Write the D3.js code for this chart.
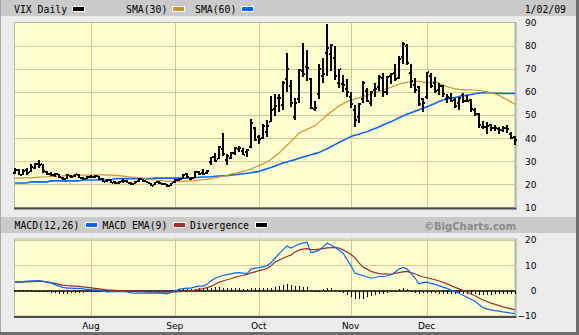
<!DOCTYPE html>
<html>
<head>
<meta charset="utf-8">
<script src="https://cdn.jsdelivr.net/npm/d3@7"></script>
<style>
  html, body { margin: 0; padding: 0; background: #ececec; }
  svg { display: block; }
</style>
</head>
<body>
<svg id="chart" width="579" height="335"></svg>
<script>
// ---- Trading calendar (weekdays minus exchange holidays) ----
const firstDay = "2008-07-07";
const lastDay = "2009-01-02";
const holidays = ["2008-09-01", "2008-11-27", "2008-12-25", "2009-01-01"];

// ---- VIX daily OHLC ----
const open = [
  25.0, 26.2, 24.2, 26.2, 25.5, 27.0, 29.0, 28.6, 25.4, 24.5,
  24.0, 24.3, 22.8, 22.5, 23.8, 23.5, 24.2, 22.9, 22.4, 23.4,
  23.3, 23.5, 22.3, 21.4, 22.0, 20.9, 20.6, 21.3, 21.5, 20.7,
  20.3, 21.5, 22.3, 21.4, 20.6, 19.8, 21.0, 20.3, 20.0, 19.5,
  21.0, 21.9, 22.5, 24.5, 22.4, 22.8, 25.2, 25.0, 24.8, 29.5,
  32.0, 31.0, 35.5, 30.5, 31.5, 33.5, 35.4, 34.5, 33.8, 36.0,
  44.5, 40.3, 40.2, 42.5, 47.0, 52.7, 57.5, 54.5, 65.5, 62.5,
  49.0, 57.0, 69.0, 70.9, 65.5, 52.5, 59.0, 67.0, 76.8, 76.5,
  74.5, 64.0, 63.5, 61.3, 58.0, 52.0, 49.0, 57.0, 60.5, 55.0,
  61.0, 62.0, 66.0, 60.0, 67.0, 68.0, 66.0, 75.0, 80.0, 68.0,
  63.0, 62.0, 57.0, 58.0, 67.0, 64.0, 61.0, 62.5, 57.0, 57.5,
  56.5, 55.0, 58.5, 56.0, 56.5, 52.0, 50.5, 45.0, 45.0, 45.5,
  44.5, 44.0, 43.5, 44.5, 42.0, 40.5
];
const high = [
  27.1, 26.8, 26.5, 27.2, 28.8, 29.3, 30.7, 29.0, 25.8, 25.3,
  25.0, 24.5, 23.4, 24.3, 24.2, 24.6, 24.5, 23.4, 23.8, 24.0,
  24.2, 23.7, 22.6, 22.5, 22.2, 21.3, 21.5, 22.2, 21.9, 21.0,
  21.4, 22.8, 22.5, 21.6, 20.8, 21.2, 21.5, 20.8, 20.3, 20.8,
  22.4, 22.8, 24.3, 25.0, 23.2, 25.8, 26.0, 26.8, 26.2, 31.8,
  33.5, 36.5, 42.2, 33.0, 33.8, 36.0, 36.5, 35.7, 35.2, 48.4,
  44.9, 41.2, 46.0, 48.0, 58.2, 59.0, 59.1, 64.9, 76.9, 65.0,
  57.5, 69.9, 81.2, 77.9, 66.1, 56.0, 72.0, 74.5, 89.5, 80.6,
  80.0, 70.0, 67.5, 65.5, 59.8, 54.5, 55.0, 64.5, 61.5, 60.5,
  64.0, 67.5, 68.0, 67.0, 68.0, 72.0, 75.5, 81.5, 80.5, 72.0,
  66.0, 62.5, 57.5, 68.6, 68.0, 66.5, 64.0, 63.0, 59.0, 59.5,
  57.5, 58.0, 59.5, 58.5, 57.0, 53.0, 51.0, 47.5, 47.0, 46.0,
  45.5, 45.0, 45.2, 45.5, 42.5, 40.8
];
const low = [
  24.5, 23.9, 24.0, 24.2, 25.2, 26.8, 27.0, 24.8, 24.0, 23.8,
  23.3, 22.7, 21.8, 22.4, 22.8, 23.1, 22.6, 21.9, 22.2, 22.6,
  22.9, 21.8, 21.0, 21.1, 20.6, 20.1, 20.3, 20.8, 20.5, 19.8,
  20.1, 21.2, 21.0, 20.4, 19.1, 19.6, 20.2, 19.8, 19.0, 19.3,
  20.8, 21.5, 22.3, 22.8, 21.9, 22.6, 24.1, 24.0, 24.5, 28.5,
  29.6, 30.8, 32.4, 28.5, 30.8, 32.8, 34.0, 32.5, 32.0, 35.8,
  38.6, 37.6, 39.7, 40.3, 46.8, 49.5, 51.4, 52.0, 60.0, 53.5,
  48.0, 55.0, 66.5, 64.7, 52.6, 51.7, 57.0, 64.0, 67.0, 69.0,
  65.2, 61.5, 60.0, 57.8, 53.0, 45.0, 46.5, 55.0, 55.5, 54.0,
  58.0, 60.5, 58.0, 58.5, 63.5, 64.5, 65.5, 72.0, 71.5, 61.5,
  59.5, 54.0, 51.5, 57.0, 61.5, 59.5, 58.5, 58.0, 55.0, 55.5,
  53.0, 52.0, 55.0, 55.5, 51.5, 49.5, 44.5, 43.8, 42.0, 43.0,
  43.2, 42.0, 42.5, 42.3, 39.5, 37.2
];
const close = [
  26.3, 24.1, 26.0, 24.8, 27.5, 28.6, 28.5, 25.6, 24.6, 24.2,
  24.3, 23.0, 22.2, 24.0, 23.4, 24.4, 22.9, 22.3, 23.4, 23.1,
  23.8, 22.2, 21.2, 21.9, 20.8, 20.4, 21.2, 21.4, 20.8, 20.2,
  21.2, 22.4, 21.3, 20.8, 19.3, 21.0, 20.4, 20.1, 19.3, 20.6,
  21.9, 22.4, 24.0, 23.1, 22.6, 25.5, 24.3, 24.4, 25.7, 31.7,
  30.3, 36.2, 33.1, 32.1, 33.7, 35.7, 35.8, 32.8, 34.7, 46.7,
  39.4, 39.8, 45.3, 45.1, 52.1, 53.7, 57.5, 63.9, 70.0, 55.0,
  55.1, 69.3, 67.6, 70.3, 53.0, 53.1, 69.7, 67.8, 79.1, 80.1,
  67.0, 70.0, 62.9, 59.9, 54.9, 47.7, 54.6, 63.7, 56.1, 60.0,
  61.2, 66.5, 59.8, 66.3, 67.6, 65.6, 74.3, 80.9, 72.7, 64.7,
  60.9, 54.9, 55.3, 68.5, 62.4, 60.5, 62.5, 59.0, 58.0, 56.0,
  54.0, 57.5, 56.0, 56.0, 52.4, 50.5, 45.5, 44.9, 45.3, 44.5,
  44.3, 43.4, 44.2, 44.0, 40.0, 39.2
];

// ---- Moving averages ----
const sma30 = [
  22.7, 22.7, 22.8, 22.8, 22.8, 23.0, 23.1, 23.2, 23.3, 23.4,
  23.5, 23.6, 23.7, 23.8, 23.8, 23.9, 23.9, 24.0, 24.0, 24.0,
  24.0, 24.1, 24.1, 24.0, 24.0, 23.9, 23.8, 23.6, 23.4, 23.2,
  23.0, 22.8, 22.6, 22.3, 22.1, 21.9, 21.7, 21.5, 21.4, 21.3,
  21.3, 21.3, 21.3, 21.4, 21.5, 21.6, 21.8, 22.0, 22.2, 22.5,
  22.8, 23.1, 23.5, 23.9, 24.4, 24.8, 25.2, 25.6, 26.1, 26.7,
  27.4, 28.2, 28.9, 29.8, 30.8, 32.2, 33.6, 35.2, 36.9, 38.5,
  40.3, 42.1, 43.0, 43.8, 44.6, 45.4, 46.9, 48.4, 50.0, 51.3,
  52.6, 53.9, 54.8, 55.7, 56.4, 56.9, 57.4, 58.0, 58.5, 59.1,
  59.7, 60.2, 60.8, 61.4, 62.0, 62.7, 63.3, 63.8, 64.2, 64.4,
  64.6, 64.5, 64.2, 63.9, 64.1, 64.3, 63.8, 62.9, 62.3, 61.8,
  61.3, 61.1, 61.0, 60.9, 60.9, 60.8, 60.6, 60.3, 60.0, 59.6,
  59.1, 58.5, 57.5, 56.6, 55.6, 54.6
];
const sma60 = [
  20.6, 20.6, 20.6, 20.6, 21.1, 21.1, 21.1, 21.1, 21.1, 21.5,
  21.5, 21.5, 21.5, 21.5, 21.5, 21.5, 21.5, 21.9, 21.9, 21.9,
  21.9, 21.9, 21.9, 21.9, 21.9, 22.5, 22.5, 22.5, 22.5, 22.5,
  22.5, 22.5, 22.5, 22.5, 22.5, 22.7, 22.7, 22.7, 22.7, 22.7,
  22.7, 22.7, 22.7, 22.7, 22.7, 23.0, 23.1, 23.2, 23.2, 23.3,
  23.5, 23.6, 23.7, 23.8, 24.0, 24.2, 24.4, 24.6, 24.8, 25.0,
  25.3, 25.6, 26.2, 26.8, 27.3, 27.9, 28.6, 29.2, 29.7, 30.2,
  30.7, 31.3, 31.8, 32.3, 32.8, 33.3, 33.8, 34.6, 35.4, 36.3,
  37.2, 38.1, 39.0, 39.9, 40.7, 41.2, 41.7, 42.3, 42.8, 43.5,
  44.2, 44.9, 45.7, 46.4, 47.1, 47.9, 48.8, 49.6, 50.3, 51.0,
  51.6, 52.3, 52.9, 53.6, 54.3, 55.0, 55.8, 56.5, 56.9, 57.3,
  57.6, 58.0, 58.3, 58.6, 58.9, 59.2, 59.5, 59.6, 59.6, 59.5,
  59.4, 59.4, 59.3, 59.3, 59.3, 59.3
];

// ---- MACD(12,26), signal EMA(9) and divergence ----
const macd = [
  3.5, 3.5, 3.6, 3.8, 3.9, 3.9, 4.0, 3.7, 3.4, 3.0,
  2.4, 1.8, 1.3, 1.0, 1.0, 0.9, 0.9, 0.7, 0.5, 0.3,
  0.3, 0.2, -0.2, -0.5, -0.4, -0.4, -0.4, -0.4, -0.5, -0.9,
  -1.0, -1.0, -1.0, -1.0, -1.0, -1.0, -1.0, -1.1, -1.3, -0.7,
  -0.2, 0.5, 0.8, 1.0, 1.0, 1.5, 1.8, 1.8, 2.5, 3.9,
  4.8, 5.5, 6.0, 6.3, 6.6, 7.0, 7.1, 6.9, 6.7, 8.5,
  8.9, 9.1, 9.4, 9.9, 11.0, 12.8, 14.5, 16.2, 17.6, 16.8,
  17.6, 18.4, 18.8, 19.1, 15.0, 15.3, 16.0, 17.2, 18.7, 18.0,
  17.1, 16.0, 14.8, 12.3, 9.9, 6.9, 6.4, 6.0, 5.5, 4.9,
  5.2, 5.6, 5.6, 5.8, 6.3, 7.3, 8.5, 9.2, 8.6, 6.8,
  5.0, 2.7, 3.2, 3.4, 2.9, 2.5, 2.0, 1.4, 0.9, 0.2,
  -0.4, -1.0, -1.8, -2.6, -3.4, -4.2, -5.5, -6.7, -7.2, -7.6,
  -7.9, -8.1, -8.4, -8.6, -8.9, -9.1
];
const signal = [
  3.3, 3.3, 3.4, 3.5, 3.6, 3.7, 3.7, 3.7, 3.5, 3.2,
  2.9, 2.5, 2.2, 2.0, 1.9, 1.8, 1.7, 1.5, 1.3, 1.1,
  0.9, 0.7, 0.5, 0.3, 0.2, 0.1, 0.0, 0.0, -0.1, -0.2,
  -0.3, -0.4, -0.4, -0.5, -0.5, -0.6, -0.6, -0.6, -0.6, -0.5,
  -0.5, -0.4, -0.3, -0.2, -0.1, 0.2, 0.5, 0.8, 1.2, 1.7,
  2.5, 3.3, 3.8, 4.3, 4.7, 5.3, 5.7, 6.0, 6.4, 7.0,
  7.4, 7.9, 8.3, 8.8, 9.8, 11.3, 12.0, 12.8, 13.5, 14.1,
  15.3, 16.0, 16.4, 16.6, 16.2, 16.2, 16.4, 16.6, 16.9, 17.0,
  17.1, 16.8, 16.1, 15.3, 14.3, 13.0, 11.0, 9.3, 8.5, 7.6,
  7.1, 6.7, 6.6, 6.5, 6.5, 6.8, 7.1, 7.4, 7.6, 7.1,
  6.6, 6.0, 5.4, 5.1, 4.7, 4.3, 3.8, 3.3, 2.7, 2.0,
  1.3, 0.7, 0.0, -0.6, -1.3, -2.0, -2.9, -3.7, -4.3, -4.9,
  -5.4, -5.9, -6.4, -6.8, -7.2, -7.6
];
const divergence = [
  0.1, 0.1, 0.1, 0.2, 0.2, -0.3, -0.3, -0.4, -0.6, -0.8,
  -1.0, -1.2, -1.3, -1.2, -1.1, -1.0, -0.9, -0.8, -0.7, -0.6,
  -0.5, -0.4, -0.5, -0.6, -0.5, -0.4, -0.4, -0.4, -0.4, -0.5,
  -0.5, -0.4, -0.4, -0.4, -0.4, -0.4, -0.4, -0.4, -0.5, -0.2,
  0.0, 0.3, 0.5, 0.6, 0.6, 0.8, 0.9, 0.9, 1.0, 1.2,
  1.3, 1.3, 1.2, 1.1, 1.0, 1.0, 0.9, 0.8, 0.7, 0.9,
  0.9, 0.9, 0.9, 1.0, 1.2, 1.5, 2.0, 2.4, 2.8, 2.2,
  1.8, 1.7, 1.6, 1.5, 0.4, -0.4, 0.0, 0.6, 1.0, 0.9,
  0.3, -0.1, -0.8, -1.6, -2.6, -3.4, -3.4, -3.1, -2.6, -2.2,
  -1.8, -1.4, -1.2, -0.9, -0.6, -0.1, 0.6, 0.9, 0.7, -0.2,
  -0.8, -1.2, -1.0, -1.0, -1.1, -1.1, -1.2, -1.2, -1.3, -1.3,
  -1.3, -1.4, -1.4, -1.4, -1.5, -1.5, -1.6, -1.6, -1.6, -1.6,
  -1.5, -1.5, -1.4, -1.4, -1.4, -1.4
];

// ---- Axis ticks ----
const priceTicks = [10, 20, 30, 40, 50, 60, 70, 80, 90];
const macdTicks = [-10, 0, 10, 20];
const monthStarts = ["2008-08-01", "2008-09-02", "2008-10-01", "2008-11-03", "2008-12-01"];
const monthLabels = ["Aug", "Sep", "Oct", "Nov", "Dec"];

// build the list of trading days
const dates = [];
{
  const fmt = d3.utcFormat("%Y-%m-%d");
  let d = new Date(firstDay + "T00:00:00Z");
  const end = new Date(lastDay + "T00:00:00Z");
  while (d <= end) {
    const wd = d.getUTCDay();
    const s = fmt(d);
    if (wd !== 0 && wd !== 6 && !holidays.includes(s)) dates.push(s);
    d = new Date(d.getTime() + 86400000);
  }
}

const bars = dates.map((date, i) => ({
  date, open: open[i], high: high[i], low: low[i], close: close[i]
}));

// ---- Layout ----
const W = 579, H = 335;
const left = 14, right = 515.5;
const top1 = 22, bot1 = 208;      // price panel
const top2 = 238.5, bot2 = 316.5; // MACD panel

const svg = d3.select("#chart");
const monoFont = "'DejaVu Sans Mono', 'Liberation Mono', monospace";
const sansFont = "'DejaVu Sans', Verdana, sans-serif";
const gridColor = "#cfcb96";
const plotFill = "#ffffcf";
const smaGold = "#c9962f";
const lineBlue = "#0a64ff";
const emaRed = "#9b2f2f";

// scales
const x = d3.scaleBand().domain(dates).range([13, 516.5]);
const cx = d => Math.round(x(d) + x.bandwidth() / 2);
const y = d3.scaleLinear().domain([10, 90]).range([207.5, 22.5]);
const ym = d3.scaleLinear().domain([-10, 20]).range([316, 240]);

// page frame
svg.append("rect").attr("width", W).attr("height", H).attr("fill", "#ececec");
svg.append("rect").attr("x", 0).attr("y", 0).attr("width", 576).attr("height", 16).attr("fill", "#cacaca");
svg.append("rect").attr("x", 0).attr("y", 217).attr("width", 576).attr("height", 16).attr("fill", "#cacaca");
svg.append("rect").attr("x", 0).attr("y", 0).attr("width", 1).attr("height", H).attr("fill", "#a9a9a9");
svg.append("rect").attr("x", 576).attr("y", 0).attr("width", 3).attr("height", H).attr("fill", "#6c6c6c");
svg.append("rect").attr("x", 0).attr("y", 332).attr("width", W).attr("height", 3).attr("fill", "#6c6c6c");

// ---- Header legends ----
function swatch(g, x0, y0, color) {
  g.append("rect").attr("x", x0).attr("y", y0).attr("width", 13).attr("height", 6).attr("fill", "#ffffff");
  g.append("rect").attr("x", x0 + 1).attr("y", y0 + 1).attr("width", 11).attr("height", 4).attr("fill", color);
}
const hdr = svg.append("g").attr("font-family", monoFont).attr("font-size", "9.8px").attr("fill", "#000");
hdr.append("text").attr("x", 14).attr("y", 12.5).text("VIX Daily");
swatch(hdr, 72, 6, "#000000");
hdr.append("text").attr("x", 126).attr("y", 12.5).text("SMA(30)");
swatch(hdr, 172, 6, smaGold);
hdr.append("text").attr("x", 195).attr("y", 12.5).text("SMA(60)");
swatch(hdr, 241, 6, lineBlue);
hdr.append("text").attr("x", 566).attr("y", 12.5).attr("text-anchor", "end").text("1/02/09");

const hdr2 = svg.append("g").attr("font-family", monoFont).attr("font-size", "9.8px").attr("fill", "#000");
hdr2.append("text").attr("x", 14.5).attr("y", 229).text("MACD(12,26)");
swatch(hdr2, 85, 222, lineBlue);
hdr2.append("text").attr("x", 102.5).attr("y", 229).text("MACD EMA(9)");
swatch(hdr2, 173, 222, emaRed);
hdr2.append("text").attr("x", 190).attr("y", 229).text("Divergence");
swatch(hdr2, 255, 222, "#000000");
svg.append("text").attr("x", 424).attr("y", 229.5)
  .attr("font-family", sansFont).attr("font-weight", "bold").attr("font-size", "10px")
  .attr("fill", "#8a8a8a").text("\u00A9BigCharts.com");

// ---- Panel backgrounds and grids ----
function panel(t, b, yScale, ticks) {
  const g = svg.append("g");
  g.append("rect").attr("x", left).attr("y", t).attr("width", right - left).attr("height", b - t)
    .attr("fill", plotFill);
  g.selectAll("line.h").data(ticks).join("line")
    .attr("x1", left).attr("x2", right)
    .attr("y1", d => Math.round(yScale(d)) + 0.5).attr("y2", d => Math.round(yScale(d)) + 0.5)
    .attr("stroke", gridColor).attr("stroke-width", 1);
  g.selectAll("line.v").data(monthStarts).join("line")
    .attr("x1", d => cx(d) + 0.5).attr("x2", d => cx(d) + 0.5)
    .attr("y1", t).attr("y2", b)
    .attr("stroke", gridColor).attr("stroke-width", 1);
  // frame: light top/left/right, dark bottom
  g.append("rect").attr("x", left + 0.5).attr("y", t + 0.5).attr("width", right - left - 1).attr("height", b - t - 1)
    .attr("fill", "none").attr("stroke", "#b8b8a8").attr("stroke-width", 1);
  g.append("line").attr("x1", left).attr("x2", right + 1).attr("y1", b + 0.5).attr("y2", b + 0.5)
    .attr("stroke", "#4a4a4a").attr("stroke-width", 2);
  g.append("line").attr("x1", right + 0.5).attr("x2", right + 0.5).attr("y1", t).attr("y2", b)
    .attr("stroke", "#9a9a9a").attr("stroke-width", 1);
  return g;
}
panel(top1, bot1, y, priceTicks.filter(v => v > 10 && v < 90));
panel(top2, bot2, ym, [10, 20]);

// ---- Price panel: moving averages ----
const lineGen = (vals, scale) => d3.line()
  .x((d, i) => cx(dates[i]))
  .y(d => scale(d))(vals);

svg.append("path").attr("d", lineGen(sma60, y)).attr("fill", "none")
  .attr("stroke", lineBlue).attr("stroke-width", 1.6);
svg.append("path").attr("d", lineGen(sma30, y)).attr("fill", "none")
  .attr("stroke", smaGold).attr("stroke-width", 1.2);

// ---- Price panel: OHLC bars ----
const barG = svg.append("g").attr("fill", "#000");
const bg = barG.selectAll("g").data(bars).join("g");
bg.append("rect")
  .attr("x", d => cx(d.date) - 1).attr("width", 2)
  .attr("y", d => Math.round(y(d.high)))
  .attr("height", d => Math.max(1, Math.round(y(d.low)) - Math.round(y(d.high))));
bg.append("rect")
  .attr("x", d => cx(d.date) - 2).attr("width", 1)
  .attr("y", d => Math.round(y(d.open)) - 1).attr("height", 2);
bg.append("rect")
  .attr("x", d => cx(d.date) + 1).attr("width", 1)
  .attr("y", d => Math.round(y(d.close)) - 1).attr("height", 2);

// ---- MACD panel ----
const zeroY = Math.round(ym(0));
svg.append("g").selectAll("rect").data(divergence).join("rect")
  .attr("x", (d, i) => cx(dates[i]))
  .attr("width", 1)
  .attr("y", d => Math.min(zeroY, Math.round(ym(d))))
  .attr("height", d => Math.max(1, Math.abs(Math.round(ym(d)) - zeroY)))
  .attr("fill", "#000");
svg.append("line").attr("x1", left).attr("x2", right).attr("y1", zeroY).attr("y2", zeroY)
  .attr("stroke", "#000").attr("stroke-width", 1.6);
svg.append("path").attr("d", lineGen(signal, ym)).attr("fill", "none")
  .attr("stroke", emaRed).attr("stroke-width", 1.2);
svg.append("path").attr("d", lineGen(macd, ym)).attr("fill", "none")
  .attr("stroke", lineBlue).attr("stroke-width", 1.2);

// ---- Axes ----
function rightAxis(scale, ticks) {
  const g = svg.append("g").attr("transform", `translate(${right},0)`)
    .call(d3.axisRight(scale).tickValues(ticks).tickSize(0).tickFormat(d3.format("d")));
  g.select(".domain").remove();
  g.selectAll("text")
    .attr("x", 21).attr("text-anchor", "end")
    .attr("font-family", sansFont).attr("font-size", "9px").attr("fill", "#000");
}
rightAxis(y, priceTicks);
rightAxis(ym, macdTicks);

const xAxis = svg.append("g").attr("transform", `translate(0,${bot2})`)
  .call(d3.axisBottom(x).tickValues(monthStarts).tickSize(0).tickPadding(6)
    .tickFormat(d => monthLabels[monthStarts.indexOf(d)]));
xAxis.select(".domain").remove();
xAxis.selectAll("text").attr("font-family", sansFont).attr("font-size", "9px").attr("fill", "#000");
</script>
</body>
</html>
